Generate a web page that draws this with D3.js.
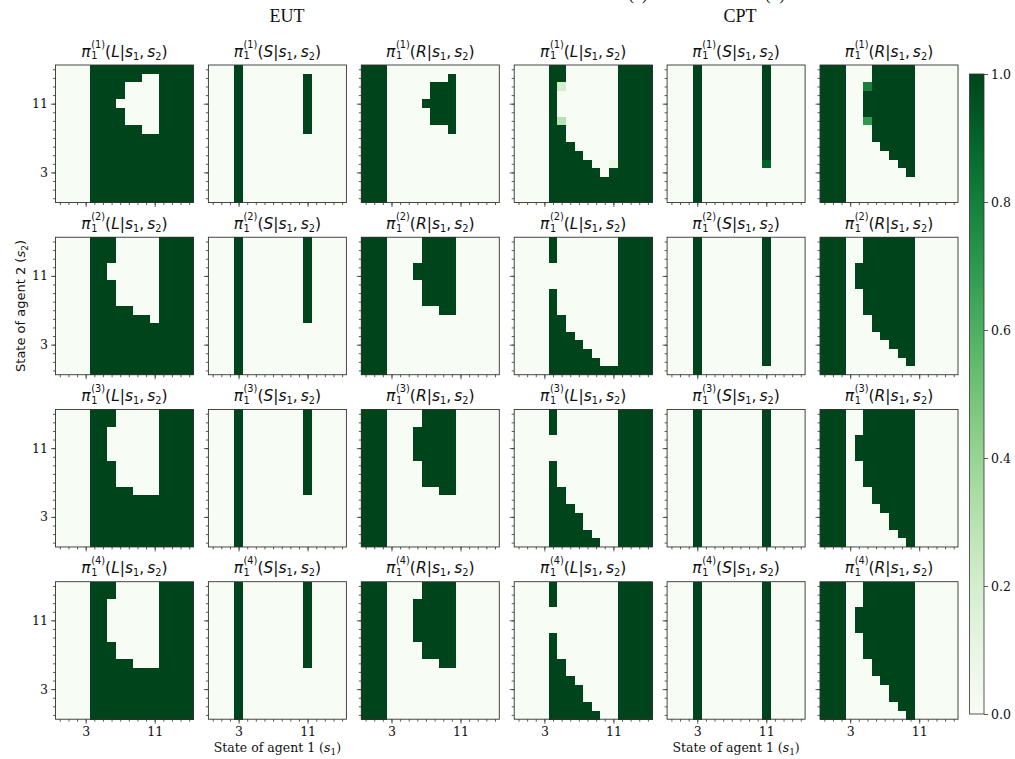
<!DOCTYPE html>
<html>
<head>
<meta charset="utf-8">
<script src="https://cdn.jsdelivr.net/npm/d3@7"></script>
<style>
  body { margin: 0; background: #fff; }
  svg text { fill: #111; }
</style>
</head>
<body>
<div id="chart"></div>
<script>
// policy maps pi_1^(k)(a | s1, s2) of agent 1, 16 x 16 states
// each grid: rows from s2 = 15 (top) down to s2 = 0, columns s1 = 0..15
// '.' = 0, '#' = 1, a digit = tenths
const nStates = 16;
const actions = ["L", "S", "R"];
const levels = [1, 2, 3, 4];
const groups = ["EUT", "CPT"];
const majorTicks = [3, 11];
const cbarTicks = [0, 0.2, 0.4, 0.6, 0.8, 1.0];

const eutL1 = ["....############", "....######..####", "....####....####", "....####....####",
               "....###.....####", "....####....####", "....####....####", "....######..####",
               "....############", "....############", "....############", "....############",
               "....############", "....############", "....############", "....############"];
const eutS1 = ["...#............", "...#.......#....", "...#.......#....", "...#.......#....",
               "...#.......#....", "...#.......#....", "...#.......#....", "...#.......#....",
               "...#............", "...#............", "...#............", "...#............",
               "...#............", "...#............", "...#............", "...#............"];
const eutR1 = ["###.............", "###.......#.....", "###.....###.....", "###.....###.....",
               "###....####.....", "###.....###.....", "###.....###.....", "###.......#.....",
               "###.............", "###.............", "###.............", "###.............",
               "###.............", "###.............", "###.............", "###............."];

const eutL2 = ["....###.....####", "....###.....####", "....###.....####", "....##......####",
               "....##......####", "....###.....####", "....###.....####", "....###.....####",
               "....#####...####", "....#######.####", "....############", "....############",
               "....############", "....############", "....############", "....############"];
const eutS2 = ["...#.......#....", "...#.......#....", "...#.......#....", "...#.......#....",
               "...#.......#....", "...#.......#....", "...#.......#....", "...#.......#....",
               "...#.......#....", "...#.......#....", "...#............", "...#............",
               "...#............", "...#............", "...#............", "...#............"];
const eutR2 = ["###....####.....", "###....####.....", "###....####.....", "###...#####.....",
               "###...#####.....", "###....####.....", "###....####.....", "###....####.....",
               "###......##.....", "###.............", "###.............", "###.............",
               "###.............", "###.............", "###.............", "###............."];

const eutL3 = ["....###.....####", "....###.....####", "....##......####", "....##......####",
               "....##......####", "....##......####", "....###.....####", "....###.....####",
               "....###.....####", "....#####...####", "....############", "....############",
               "....############", "....############", "....############", "....############"];
const eutS3 = ["...#.......#....", "...#.......#....", "...#.......#....", "...#.......#....",
               "...#.......#....", "...#.......#....", "...#.......#....", "...#.......#....",
               "...#.......#....", "...#.......#....", "...#............", "...#............",
               "...#............", "...#............", "...#............", "...#............"];
const eutR3 = ["###....####.....", "###....####.....", "###...#####.....", "###...#####.....",
               "###...#####.....", "###...#####.....", "###....####.....", "###....####.....",
               "###....####.....", "###......##.....", "###.............", "###.............",
               "###.............", "###.............", "###.............", "###............."];

const eutL4 = ["....###.....####", "....###.....####", "....##......####", "....##......####",
               "....##......####", "....##......####", "....##......####", "....###.....####",
               "....###.....####", "....#####...####", "....############", "....############",
               "....############", "....############", "....############", "....############"];
const eutS4 = ["...#.......#....", "...#.......#....", "...#.......#....", "...#.......#....",
               "...#.......#....", "...#.......#....", "...#.......#....", "...#.......#....",
               "...#.......#....", "...#.......#....", "...#............", "...#............",
               "...#............", "...#............", "...#............", "...#............"];
const eutR4 = ["###....####.....", "###....####.....", "###...#####.....", "###...#####.....",
               "###...#####.....", "###...#####.....", "###...#####.....", "###....####.....",
               "###....####.....", "###......##.....", "###.............", "###.............",
               "###.............", "###.............", "###.............", "###............."];

const cptL1 = ["....##......####", "....##......####", "....#2......####", "....#.......####",
               "....#.......####", "....#.......####", "....#3......####", "....##......####",
               "....##......####", "....###.....####", "....####....####", "....#####..1####",
               "....######.#####", "....############", "....############", "....############"];
const cptS1 = ["...#.......#....", "...#.......#....", "...#.......#....", "...#.......#....",
               "...#.......#....", "...#.......#....", "...#.......#....", "...#.......#....",
               "...#.......#....", "...#.......#....", "...#.......#....", "...#.......9....",
               "...#............", "...#............", "...#............", "...#............"];
const cptR1 = ["###...#####.....", "###...#####.....", "###..8#####.....", "###..######.....",
               "###..######.....", "###..######.....", "###..7#####.....", "###...#####.....",
               "###...#####.....", "###....####.....", "###.....###.....", "###......##.....",
               "###.......#.....", "###.............", "###.............", "###............."];

const cptL2 = ["....#.......####", "....#.......####", "....#.......####", "............####",
               "............####", "............####", "....#.......####", "....#.......####",
               "....#.......####", "....##......####", "....##......####", "....###.....####",
               "....####....####", "....#####...####", "....######..####", "....############"];
const cptS2 = ["...#.......#....", "...#.......#....", "...#.......#....", "...#.......#....",
               "...#.......#....", "...#.......#....", "...#.......#....", "...#.......#....",
               "...#.......#....", "...#.......#....", "...#.......#....", "...#.......#....",
               "...#.......#....", "...#.......#....", "...#.......#....", "...#............"];
const cptR2 = ["###..######.....", "###..######.....", "###..######.....", "###.#######.....",
               "###.#######.....", "###.#######.....", "###..######.....", "###..######.....",
               "###..######.....", "###...#####.....", "###...#####.....", "###....####.....",
               "###.....###.....", "###......##.....", "###.......#.....", "###............."];

const cptL3 = ["....#.......####", "....#.......####", "....#.......####", "............####",
               "............####", "............####", "....#.......####", "....#.......####",
               "....#.......####", "....##......####", "....##......####", "....###.....####",
               "....####....####", "....####....####", "....#####...####", "....######..####"];
const cptS3 = ["...#.......#....", "...#.......#....", "...#.......#....", "...#.......#....",
               "...#.......#....", "...#.......#....", "...#.......#....", "...#.......#....",
               "...#.......#....", "...#.......#....", "...#.......#....", "...#.......#....",
               "...#.......#....", "...#.......#....", "...#.......#....", "...#.......#...."];
const cptR3 = ["###..######.....", "###..######.....", "###..######.....", "###.#######.....",
               "###.#######.....", "###.#######.....", "###..######.....", "###..######.....",
               "###..######.....", "###...#####.....", "###...#####.....", "###....####.....",
               "###.....###.....", "###.....###.....", "###......##.....", "###.......#....."];

const cptL4 = ["....#.......####", "....#.......####", "....#.......####", "............####",
               "............####", "............####", "....#.......####", "....#.......####",
               "....#.......####", "....##......####", "....##......####", "....###.....####",
               "....####....####", "....####....####", "....#####...####", "....######..####"];
const cptS4 = ["...#.......#....", "...#.......#....", "...#.......#....", "...#.......#....",
               "...#.......#....", "...#.......#....", "...#.......#....", "...#.......#....",
               "...#.......#....", "...#.......#....", "...#.......#....", "...#.......#....",
               "...#.......#....", "...#.......#....", "...#.......#....", "...#.......#...."];
const cptR4 = ["###..######.....", "###..######.....", "###..######.....", "###.#######.....",
               "###.#######.....", "###.#######.....", "###..######.....", "###..######.....",
               "###..######.....", "###...#####.....", "###...#####.....", "###....####.....",
               "###.....###.....", "###.....###.....", "###......##.....", "###.......#....."];

const grids = [
    [eutL1, eutS1, eutR1, cptL1, cptS1, cptR1],
    [eutL2, eutS2, eutR2, cptL2, cptS2, cptR2],
    [eutL3, eutS3, eutR3, cptL3, cptS3, cptR3],
    [eutL4, eutS4, eutR4, cptL4, cptS4, cptR4]
];

// ---- layout ----
const width = 1015, height = 759;
const pw = 138, ph = 137.5;
const colX = d3.scaleLinear().domain([0, 5]).range([55.5, 820]);
const rowY = d3.scaleLinear().domain([0, 3]).range([65, 581.7]);
const color = d3.scaleSequential(d3.interpolateGreens).domain([0, 1]);
const serif = "'DejaVu Serif', serif";
const sans = "'DejaVu Sans', sans-serif";

const svg = d3.select("#chart").append("svg")
    .attr("width", width)
    .attr("height", height)
    .style("display", "block");

const xCell = d3.scaleBand().domain(d3.range(nStates)).range([0, pw]);
const yCell = d3.scaleBand().domain(d3.range(nStates).reverse()).range([0, ph]);
const xLin = d3.scaleLinear().domain([-0.5, nStates - 0.5]).range([0, pw]);
const yLin = d3.scaleLinear().domain([-0.5, nStates - 0.5]).range([ph, 0]);

function parseGrid(rows) {
    const cells = [];
    rows.forEach((row, r) => {
        row.split("").forEach((ch, c) => {
            const v = ch === "." ? 0 : ch === "#" ? 1 : +ch / 10;
            cells.push({ s1: c, s2: nStates - 1 - r, v: v });
        });
    });
    return cells;
}

// mathtext-like title pi_1^(k)(a|s_1, s_2), one text element with positioned tspans
function mathTitle(sel, cx, baseline, k, act) {
    const fs = 15.5, ss = 9.8;
    const t = sel.append("text")
        .style("font-family", sans)
        .style("font-size", fs + "px");
    let x = 0;
    const put = (txt, it, size, y) => {
        const s = t.append("tspan")
            .attr("x", x).attr("y", y || 0)
            .style("font-style", it ? "italic" : "normal")
            .text(txt);
        if (size) s.style("font-size", size + "px");
        return s.node().getComputedTextLength();
    };
    x += put("π", true) + 0.5;
    const w1 = put("(" + k + ")", false, ss, -8.8);
    const w2 = put("1", false, ss, 2.8);
    x += Math.max(w1, w2);
    x += put("(", false);
    x += put(act, true);
    x += put("|", false);
    x += put("s", true);
    x += put("1", false, ss, 3);
    x += put(",", false) + 3;
    x += put("s", true);
    x += put("2", false, ss, 3);
    x += put(")", false);
    t.attr("transform", `translate(${cx - x / 2},${baseline})`);
}

function styleAxis(g) {
    g.select(".domain").remove();
    g.selectAll(".tick line").attr("stroke", "#333").attr("stroke-width", 0.8);
    g.selectAll(".tick text")
        .style("font-family", serif)
        .style("font-size", "12.5px")
        .attr("fill", "#111");
}

grids.forEach((rowGrids, ri) => {
    rowGrids.forEach((grid, ci) => {
        const px = colX(ci), py = rowY(ri);
        const panel = svg.append("g").attr("transform", `translate(${px},${py})`);

        panel.selectAll("rect.cell")
            .data(parseGrid(grid))
            .join("rect")
            .attr("class", "cell")
            .attr("x", d => xCell(d.s1))
            .attr("y", d => yCell(d.s2))
            .attr("width", xCell.bandwidth() + 0.5)
            .attr("height", yCell.bandwidth() + 0.5)
            .attr("shape-rendering", "crispEdges")
            .attr("fill", d => color(d.v));

        panel.append("rect")
            .attr("width", pw).attr("height", ph)
            .attr("fill", "none")
            .attr("stroke", "#333")
            .attr("stroke-width", 0.9);

        const showX = ri === grids.length - 1;
        const showY = ci === 0;

        // minor ticks at every state, major at 3 and 11
        panel.append("g").attr("transform", `translate(0,${ph})`)
            .call(d3.axisBottom(xLin).tickValues(d3.range(nStates)).tickSize(2.5).tickFormat(""))
            .call(styleAxis);
        panel.append("g").attr("transform", `translate(0,${ph})`)
            .call(d3.axisBottom(xLin).tickValues(majorTicks).tickSize(4.5).tickPadding(3)
                .tickFormat(showX ? d3.format("d") : ""))
            .call(styleAxis);
        panel.append("g")
            .call(d3.axisLeft(yLin).tickValues(d3.range(nStates)).tickSize(2.5).tickFormat(""))
            .call(styleAxis);
        panel.append("g")
            .call(d3.axisLeft(yLin).tickValues(majorTicks).tickSize(4.5).tickPadding(3)
                .tickFormat(showY ? d3.format("d") : ""))
            .call(styleAxis);

        mathTitle(svg, px + pw / 2, py - 8.5, levels[ri], actions[ci % 3]);
    });
});

// group headings
const headX = [287, 740];
groups.forEach((name, i) => {
    svg.append("text")
        .attr("x", headX[i]).attr("y", 22)
        .attr("text-anchor", "middle")
        .style("font-family", "'Liberation Serif', serif")
        .style("font-size", "18px")
        .text(name);
});

// partially cropped line above the headings
[["(a)", 638], ["(b)", 775]].forEach(([t, x]) => {
    svg.append("text")
        .attr("x", x).attr("y", 0)
        .attr("text-anchor", "middle")
        .style("font-family", "'Liberation Serif', serif")
        .style("font-size", "17px")
        .text(t);
});

// x labels under columns 1 and 4
[1, 4].forEach(ci => {
    const t = svg.append("text")
        .attr("x", colX(ci) + pw / 2).attr("y", 752)
        .attr("text-anchor", "middle")
        .style("font-family", serif)
        .style("font-size", "12.5px");
    t.append("tspan").text("State of agent 1 (");
    t.append("tspan").style("font-style", "italic").text("s");
    t.append("tspan").attr("dy", 3).style("font-size", "9px").text("1");
    t.append("tspan").attr("dy", -3).text(")");
});

// y label next to the second row
{
    const cy = rowY(1) + ph / 2;
    const t = svg.append("text")
        .attr("transform", `translate(20,${cy}) rotate(-90)`)
        .attr("text-anchor", "middle")
        .attr("dy", "0.35em")
        .style("font-family", sans)
        .style("font-size", "13px");
    t.append("tspan").text("State of agent 2 (");
    t.append("tspan").style("font-style", "italic").text("s");
    t.append("tspan").attr("dy", 3).style("font-size", "9px").text("2");
    t.append("tspan").attr("dy", -3).text(")");
}

// colorbar
const cb = { x: 969.5, y: 74, w: 14.5, h: 640 };
const grad = svg.append("defs").append("linearGradient")
    .attr("id", "cbar")
    .attr("x1", 0).attr("y1", 1).attr("x2", 0).attr("y2", 0);
grad.selectAll("stop")
    .data(d3.range(0, 1.0001, 0.05))
    .join("stop")
    .attr("offset", d => d)
    .attr("stop-color", d => color(d));

svg.append("rect")
    .attr("x", cb.x).attr("y", cb.y)
    .attr("width", cb.w).attr("height", cb.h)
    .attr("fill", "url(#cbar)")
    .attr("stroke", "#333")
    .attr("stroke-width", 0.8);

const cbScale = d3.scaleLinear().domain([0, 1]).range([cb.y + cb.h, cb.y]);
svg.append("g")
    .attr("transform", `translate(${cb.x + cb.w},0)`)
    .call(d3.axisRight(cbScale).tickValues(cbarTicks).tickSize(4).tickPadding(3).tickFormat(d3.format(".1f")))
    .call(styleAxis);
</script>
</body>
</html>
